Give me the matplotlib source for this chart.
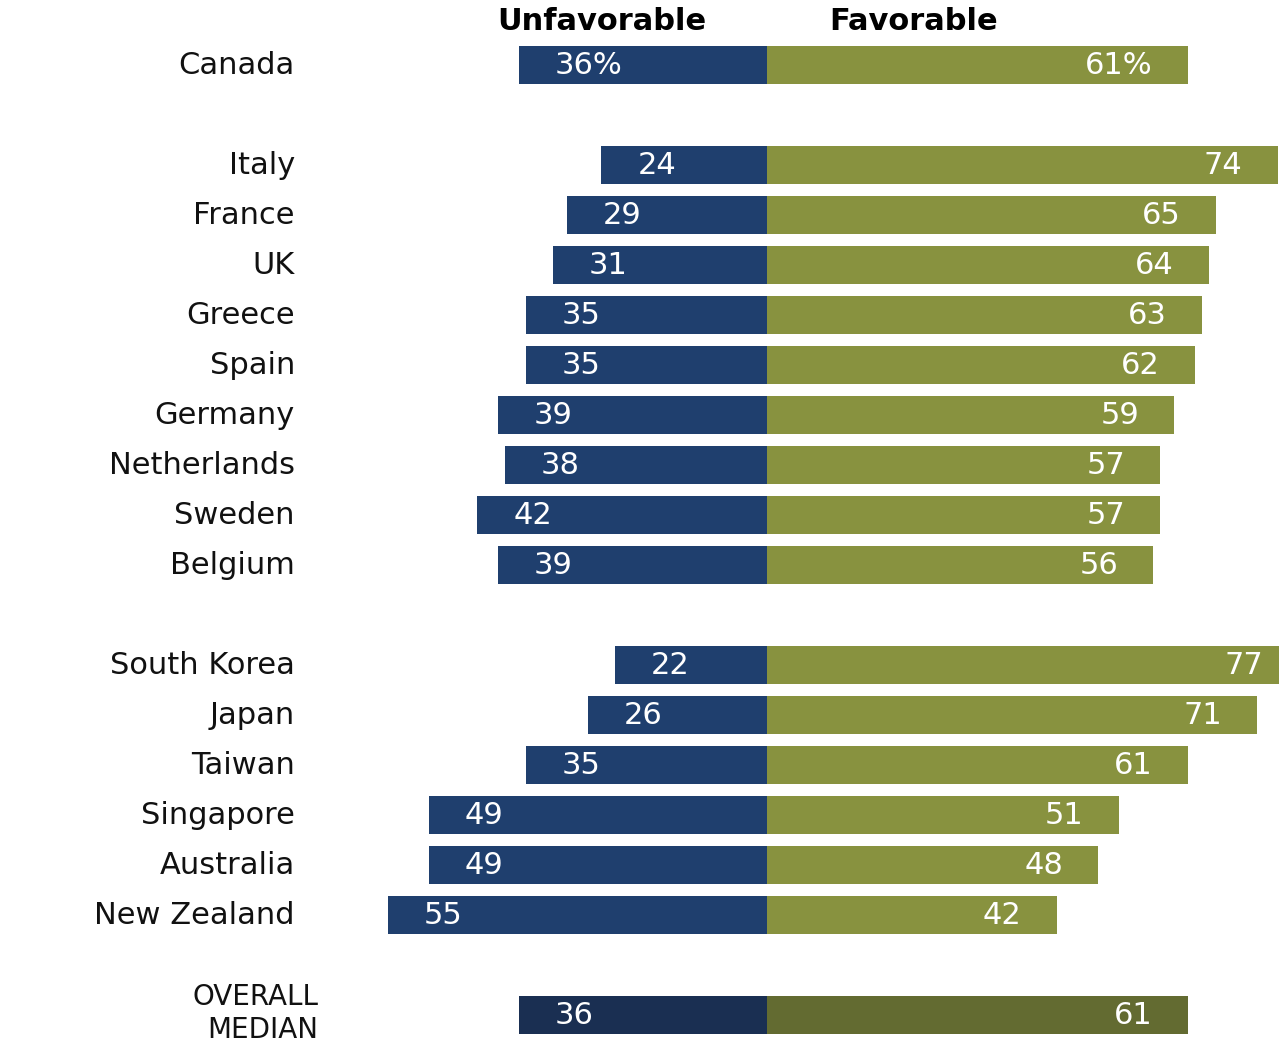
import matplotlib
matplotlib.use("Agg")
import matplotlib.pyplot as plt
import matplotlib.transforms as mtransforms

countries = ["Canada", "Italy", "France", "UK", "Greece", "Spain", "Germany",
             "Netherlands", "Sweden", "Belgium", "South Korea", "Japan", "Taiwan",
             "Singapore", "Australia", "New Zealand"]
unfavorable = [36, 24, 29, 31, 35, 35, 39, 38, 42, 39, 22, 26, 35, 49, 49, 55]
favorable = [61, 74, 65, 64, 63, 62, 59, 57, 57, 56, 77, 71, 61, 51, 48, 42]
positions = [0, 2, 3, 4, 5, 6, 7, 8, 9, 10, 12, 13, 14, 15, 16, 17]

median_label = ["OVERALL", "MEDIAN"]
median_unfav = 36
median_fav = 61
median_pos = 19

BLUE = "#1f3f6e"
OLIVE = "#88923f"
DBLUE = "#1a2f52"
DOLIVE = "#636b31"

W, H = 1279, 1043
fig = plt.figure(figsize=(W / 100, H / 100), dpi=100)
ax = fig.add_axes([0, 0, 1, 1])
ppu = 6.9
ax.set_xlim(-767 / ppu, (W - 767) / ppu)
ax.set_ylim((H - 65) / 50, -65 / 50)
ax.axis("off")

bh = 0.76
ax.barh(positions, [-u for u in unfavorable], height=bh, color=BLUE)
ax.barh(positions, favorable, height=bh, color=OLIVE)
ax.barh([median_pos], [-median_unfav], height=bh, color=DBLUE)
ax.barh([median_pos], [median_fav], height=bh, color=DOLIVE)

font = "DejaVu Sans"
fs = 22
trans = mtransforms.blended_transform_factory(ax.transAxes, ax.transData)
for i, (c, u, f, p) in enumerate(zip(countries, unfavorable, favorable, positions)):
    ax.text(295 / W, p, c, transform=trans, ha="right", va="center",
            fontsize=fs, family=font, color="#111111")
    us = f"{u}%" if i == 0 else str(u)
    fsr = f"{f}%" if i == 0 else str(f)
    ax.text(-u + 36 / ppu, p, us, ha="left", va="center", fontsize=fs,
            family=font, color="white")
    ax.text(f - 35 / ppu, p, fsr, ha="right", va="center", fontsize=fs,
            family=font, color="white")

for line, ypx in zip(median_label, [997, 1030]):
    ax.text(318 / W, (ypx - 65) / 50, line, transform=trans, ha="right",
            va="center", fontsize=20, family=font, color="#111111")
ax.text(-median_unfav + 36 / ppu, median_pos, str(median_unfav), ha="left",
        va="center", fontsize=fs, family=font, color="white")
ax.text(median_fav - 35 / ppu, median_pos, str(median_fav), ha="right",
        va="center", fontsize=fs, family=font, color="white")

ax.text(602 / W, 1 - 22 / H, "Unfavorable", transform=ax.transAxes,
        ha="center", va="center", fontsize=22, fontweight="heavy",
        family=font, color="black")
ax.text(914 / W, 1 - 22 / H, "Favorable", transform=ax.transAxes,
        ha="center", va="center", fontsize=22, fontweight="heavy",
        family=font, color="black")

fig.savefig("out.png", dpi=100)
